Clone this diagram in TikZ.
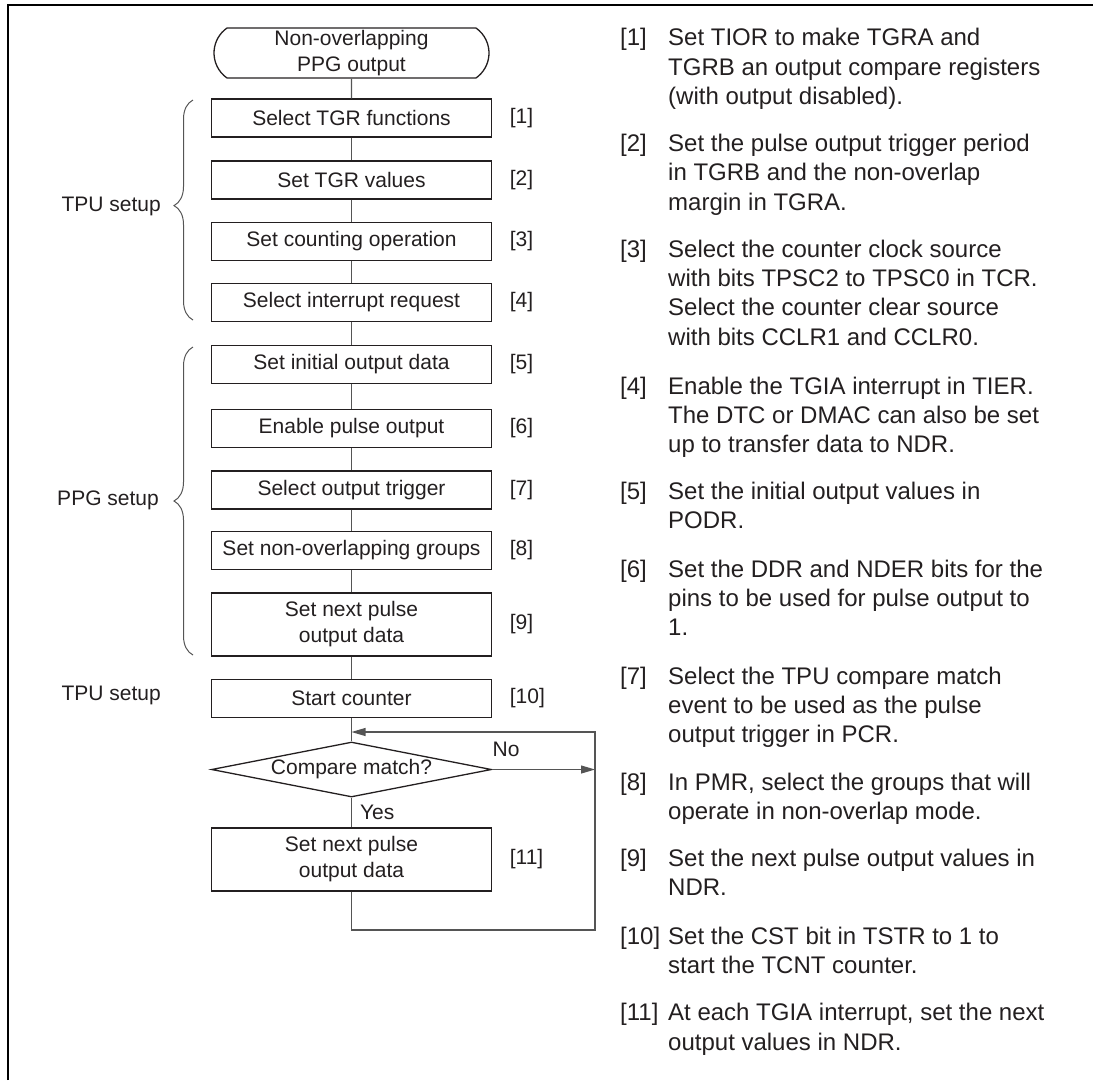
\documentclass[tikz,border=0pt]{standalone}
\usepackage{fontspec}
\setmainfont{Liberation Sans}
\usetikzlibrary{shapes.geometric, shapes.misc, arrows.meta, positioning, decorations.pathreplacing}

\newcommand\flowfont{\fontsize{21}{26}\selectfont}
\newcommand\notefont{\fontsize{24}{29.2}\selectfont}
\definecolor{ink}{HTML}{231F20}
\definecolor{wire}{HTML}{555555}

\tikzset{
  stepbox/.style={draw=ink, line width=1.3pt, minimum width=280pt, minimum height=38pt,
    inner sep=0pt, align=center, font=\flowfont, text=ink},
  tallbox/.style={stepbox, minimum height=63pt},
  termbox/.style={stepbox, rounded rectangle, rounded rectangle arc length=110,
    minimum width=275pt, minimum height=50pt},
  decision/.style={draw=ink, line width=1.3pt, diamond, aspect=5.1, minimum width=280pt,
    minimum height=55pt, inner sep=0pt, font=\flowfont, text=ink},
  steplabel/.style={inner sep=0pt, font=\flowfont, text=ink},
  grouplabel/.style={steplabel, anchor=east},
  bracket/.style={draw=wire, line width=1pt, decorate, decoration={brace, amplitude=19pt}},
  link/.style={draw=wire, line width=1.1pt},
  flowarrow/.style={link, -{Triangle[length=14pt, width=8pt]}},
  notelabel/.style={anchor=north west, inner sep=0pt, font=\notefont, text=ink},
  notetext/.style={notelabel, align=left},
}

\begin{document}
\begin{tikzpicture}[x=1pt, y=-1pt]
  \useasboundingbox (0,0) rectangle (1093,1080);
  % frame
  \draw[line width=2pt] (8.2,1080) -- (8.2,5.2) -- (1093,5.2);

  % flow chart
  \node[termbox] (start) at (351.5,53) {Non-overlapping\\PPG output};
  \node[stepbox] (s1) at (351.5,118) {Select TGR functions};
  \node[stepbox] (s2) at (351.5,180) {Set TGR values};
  \node[stepbox] (s3) at (351.5,241.5) {Set counting operation};
  \node[stepbox] (s4) at (351.5,302.5) {Select interrupt request};
  \node[stepbox] (s5) at (351.5,364.5) {Set initial output data};
  \node[stepbox] (s6) at (351.5,428.5) {Enable pulse output};
  \node[stepbox] (s7) at (351.5,490) {Select output trigger};
  \node[stepbox] (s8) at (351.5,550.5) {Set non-overlapping groups};
  \node[tallbox] (s9) at (351.5,624.5) {Set next pulse\\output data};
  \node[stepbox] (s10) at (351.5,698.5) {Start counter};
  \node[decision] (match) at (351.5,769.5) {Compare match?};
  \node[tallbox] (s11) at (351.5,859.5) {Set next pulse\\output data};

  \foreach \n in {1,...,11}
    \node[steplabel, right=17.5pt of s\n] (lab\n) {[\n]};

  % connectors
  \coordinate (loopne) at (595,732);
  \coordinate (loopse) at (595,930);
  \draw[link] (start) -- (s1);
  \foreach \a/\b in {s1/s2, s2/s3, s3/s4, s4/s5, s5/s6, s6/s7, s7/s8, s8/s9, s9/s10, s10/match}
    \draw[link] (\a) -- (\b);
  \draw[link] (match) -- node[steplabel, right=8pt] (yes) {Yes} (s11);
  \draw[flowarrow] (match.east) -- (match.east -| loopne)
    node[steplabel, pos=0, anchor=south west, yshift=12pt] (no) {No};
  \draw[flowarrow] (s11) |- (loopse) -- (loopne) -- (s10.south |- loopne);

  % groups
  \draw[bracket, decoration={aspect=0.52}] (193,320) -- (193,100);
  \draw[bracket] (193,655) -- (193,347);
  \node[grouplabel] (tpuset) at (161,206) {TPU setup};
  \node[grouplabel] (ppgset) at (159,500) {PPG setup};
  \node[grouplabel] (tpustart) at (161,695) {TPU setup};

  % notes
  \foreach \n/\y in {1/25.2, 2/131.1, 3/236.8, 4/373.9, 5/478.9, 6/556.4,
                     7/663.6, 8/769.6, 9/845.7, 10/923.6, 11/1000.3}
    \node[notelabel] (nl\n) at (620,\y) {\strut[\n]};
  \node[notetext] (nt1) at (668,25.2) {\strut Set TIOR to make TGRA and\\TGRB an output compare registers\\(with output disabled).};
  \node[notetext] (nt2) at (668,131.1) {\strut Set the pulse output trigger period\\in TGRB and the non-overlap\\margin in TGRA.};
  \node[notetext] (nt3) at (668,236.8) {\strut Select the counter clock source\\with bits TPSC2 to TPSC0 in TCR.\\Select the counter clear source\\with bits CCLR1 and CCLR0.};
  \node[notetext] (nt4) at (668,373.9) {\strut Enable the TGIA interrupt in TIER.\\The DTC or DMAC can also be set\\up to transfer data to NDR.};
  \node[notetext] (nt5) at (668,478.9) {\strut Set the initial output values in\\PODR.};
  \node[notetext] (nt6) at (668,556.4) {\strut Set the DDR and NDER bits for the\\pins to be used for pulse output to\\1.};
  \node[notetext] (nt7) at (668,663.6) {\strut Select the TPU compare match\\event to be used as the pulse\\output trigger in PCR.};
  \node[notetext] (nt8) at (668,769.6) {\strut In PMR, select the groups that will\\operate in non-overlap mode.};
  \node[notetext] (nt9) at (668,845.7) {\strut Set the next pulse output values in\\NDR.};
  \node[notetext] (nt10) at (668,923.6) {\strut Set the CST bit in TSTR to 1 to\\start the TCNT counter.};
  \node[notetext] (nt11) at (668,1000.3) {\strut At each TGIA interrupt, set the next\\output values in NDR.};
\end{tikzpicture}
\end{document}
